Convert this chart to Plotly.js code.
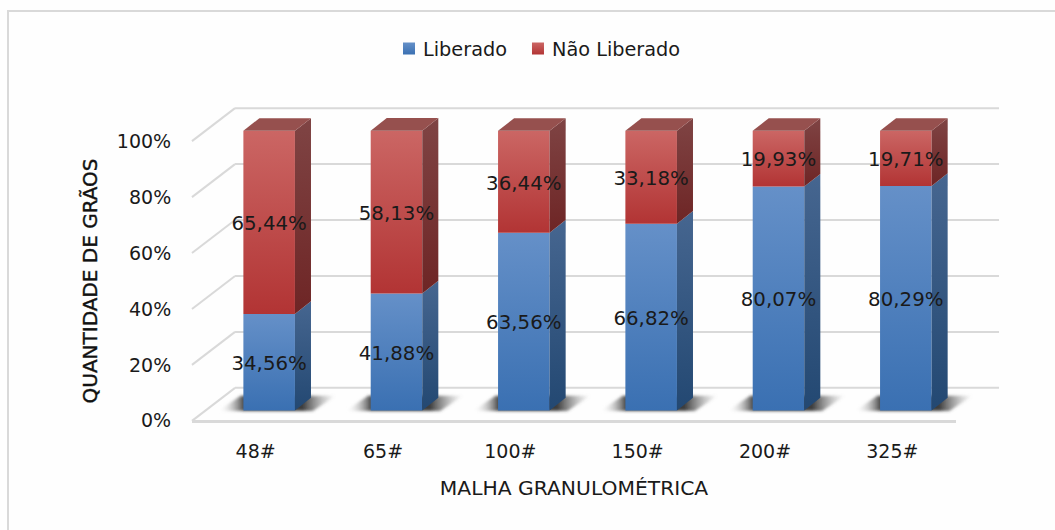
<!DOCTYPE html>
<html><head><meta charset="utf-8">
<script src="https://cdn.plot.ly/plotly-3.0.1.min.js"></script>
<style>html,body{margin:0;padding:0;background:#fff}#chart{width:1055px;height:530px}</style>
</head><body><div id="chart"></div>
<script>
const categories = ['48#','65#','100#','150#','200#','325#'];
const liberado = [34.56,41.88,63.56,66.82,80.07,80.29];
const naoLiberado = [65.44,58.13,36.44,33.18,19.93,19.71];
const yTicks = [0,20,40,60,80,100];
const yTickLabels = ['0%','20%','40%','60%','80%','100%'];

const positions = categories.map((c,i)=>i);
const fmt = v => v.toFixed(2).replace('.',',') + '%';
// 3D look, in axis units
const barW = 0.405, barShift = 0.106, barBase = 3.68;
const depthX = 0.126, depthY = 4.55;
const wallX = 0.338, wallY = 11.8;
const yMin = -14, yMax = 114;
const labelNudge = 1.0;
const left = positions.map(p => p + barShift - barW/2);
const right = left.map(l => l + barW);
const px = x => (x + 0.5) / 6, py = y => (y - yMin) / (yMax - yMin);

const traces = [];
traces.push({type:'bar',name:'Liberado',x:positions,y:liberado,base:positions.map(()=>barBase),width:barW,offset:barShift-barW/2,
  marker:{color:'#4a7dbd',line:{width:0}},hoverinfo:'skip'});
const redBase = liberado.map(v=>v+barBase);
traces.push({type:'bar',name:'Não Liberado',x:positions,y:naoLiberado,base:redBase,width:barW,offset:barShift-barW/2,
  marker:{color:'#c04d4d',line:{width:0}},hoverinfo:'skip'});

function poly(xs,ys,color,cls){
  traces.push({type:'scatter',mode:'lines',x:xs,y:ys,fill:'toself',fillcolor:color,line:{width:0,simplify:false},
    showlegend:false,hoverinfo:'skip',meta:cls});
}
positions.forEach((p,i)=>{
  const x1=right[i], y0=barBase, y1=y0+liberado[i], y2=y1+naoLiberado[i];
  poly([x1,x1+depthX,x1+depthX,x1,x1],[y0,y0+depthY,y1+depthY,y1,y0],'#30557f','sideBlue');
  poly([x1,x1+depthX,x1+depthX,x1,x1],[y1,y1+depthY,y2+depthY,y2,y1],'#743030','sideRed');
  poly([left[i],left[i]+depthX,x1+depthX,x1,left[i]],[y2,y2+depthY,y2+depthY,y2,y2],'#96504e','top');
});
const labelFont={size:19.8,color:'#1a1a1a',family:'DejaVu Sans'};
traces.push({type:'scatter',mode:'text',x:positions.map(p=>p+barShift),y:liberado.map(v=>barBase+v/2-labelNudge),text:liberado.map(fmt),
  textposition:'middle center',textfont:labelFont,showlegend:false,hoverinfo:'skip'});
traces.push({type:'scatter',mode:'text',x:positions.map(p=>p+barShift),y:naoLiberado.map((v,i)=>redBase[i]+v/2-labelNudge),text:naoLiberado.map(fmt),
  textposition:'middle center',textfont:labelFont,showlegend:false,hoverinfo:'skip'});

const grid = {color:'#d9d9d9',width:2};
const shapes = [];
const H=358, W=764, X0=192, Y0=460;
// chart frame
shapes.push({type:'path',xref:'paper',yref:'paper',layer:'below',
  path:`M ${(8-X0)/W} ${(Y0-532)/H} L ${(8-X0)/W} ${(Y0-11)/H} L ${(1057-X0)/W} ${(Y0-11)/H}`,
  line:{color:'#d9d9d9',width:2},fillcolor:'rgba(0,0,0,0)'});
yTicks.forEach(t=>{
  shapes.push({type:'line',xref:'paper',yref:'paper',layer:'below',x0:px(-0.5),y0:py(t),x1:px(-0.5+wallX),y1:py(t+wallY),line:grid});
  shapes.push({type:'line',xref:'paper',yref:'paper',layer:'below',x0:px(-0.5+wallX),y0:py(t+wallY),x1:px(5.5+wallX),y1:py(t+wallY),line:grid});
});
positions.forEach((p,i)=>{
  const a=left[i]-0.2, b=left[i]-0.02, c=right[i]+0.32, d=right[i]+0.14;
  shapes.push({type:'path',xref:'paper',yref:'paper',layer:'below',
    path:`M ${px(a)} ${py(barBase-0.2)} L ${px(b)} ${py(barBase+5.3)} L ${px(c)} ${py(barBase+5.3)} L ${px(d)} ${py(barBase-0.2)} Z`,
    line:{width:0},fillcolor:'#555555'});
});

const font='DejaVu Sans';
const layout = {
  width:1055,height:530,
  margin:{l:X0,r:1055-X0-W,t:Y0-H,b:530-Y0,autoexpand:false},
  paper_bgcolor:'#fefefe',plot_bgcolor:'rgba(0,0,0,0)',
  barmode:'overlay',showlegend:true,
  legend:{orientation:'h',x:(383-X0)/W,xanchor:'left',y:(Y0-49)/H,yanchor:'middle',font:{family:font,size:19.3,color:'#1a1a1a'},bgcolor:'rgba(0,0,0,0)',itemclick:false,itemdoubleclick:false,traceorder:'normal'},
  xaxis:{type:'linear',range:[-0.5,5.5],anchor:'free',position:(Y0-421)/H,tickmode:'array',tickvals:positions,ticktext:categories,showgrid:false,zeroline:false,
    showline:true,linecolor:'#d9d9d9',linewidth:2.5,ticks:'outside',ticklen:13,tickcolor:'rgba(0,0,0,0)',
    tickfont:{family:font,size:19,color:'#1a1a1a'},
    title:{text:'MALHA GRANULOMÉTRICA',font:{family:font,size:20.3,color:'#1a1a1a'},standoff:19}},
  yaxis:{range:[yMin,yMax],tickmode:'array',tickvals:yTicks,ticktext:yTickLabels,showgrid:false,zeroline:false,showline:false,
    ticks:'outside',ticklen:16,tickcolor:'rgba(0,0,0,0)',tickfont:{family:font,size:19,color:'#1a1a1a'},
    title:{text:'QUANTIDADE DE GRÃOS',font:{family:font,size:20,color:'#111'},standoff:13}},
  shapes
};

Plotly.newPlot('chart',traces,layout,{displayModeBar:false,staticPlot:true}).then(gd=>{
  const NS='http://www.w3.org/2000/svg';
  const svg=gd.querySelector('svg.main-svg');
  const defs=document.createElementNS(NS,'defs');
  const grad=(id,top,bottom)=>{
    const g=document.createElementNS(NS,'linearGradient');
    g.setAttribute('id',id);g.setAttribute('x1','0');g.setAttribute('y1','0');g.setAttribute('x2','0');g.setAttribute('y2','1');
    [[0,top],[1,bottom]].forEach(([o,c])=>{const s=document.createElementNS(NS,'stop');s.setAttribute('offset',o);s.setAttribute('stop-color',c);g.appendChild(s);});
    defs.appendChild(g);
  };
  grad('gBlue','#6590c8','#3a70b2');
  grad('gRed','#cb6664','#b23434');
  grad('gSideBlue','#466690','#234872');
  grad('gSideRed','#7f4444','#6e2525');
  const sg=document.createElementNS(NS,'linearGradient');
  sg.setAttribute('id','gShadow');
  [[0,'#ffffff',0],[0.22,'#333',0.9],[0.72,'#333',0.95],[1,'#888',0]].forEach(([o,c,a])=>{const s=document.createElementNS(NS,'stop');s.setAttribute('offset',o);s.setAttribute('stop-color',c);s.setAttribute('stop-opacity',a);sg.appendChild(s);});
  defs.appendChild(sg);
  const f=document.createElementNS(NS,'filter');f.setAttribute('id','fBlur');
  f.setAttribute('x','-20%');f.setAttribute('y','-50%');f.setAttribute('width','140%');f.setAttribute('height','200%');
  const b=document.createElementNS(NS,'feGaussianBlur');b.setAttribute('stdDeviation','1.5');f.appendChild(b);defs.appendChild(f);
  svg.insertBefore(defs,svg.firstChild);
  const bars=gd.querySelectorAll('.barlayer .trace.bars');
  bars[0].querySelectorAll('path').forEach(p=>p.style.fill='url(#gBlue)');
  bars[1].querySelectorAll('path').forEach(p=>p.style.fill='url(#gRed)');
  const scat=gd.querySelectorAll('.scatterlayer .trace.scatter');
  const sc=traces.filter(t=>t.type==='scatter');
  scat.forEach((t,i)=>{
    const m=sc[i].meta, p=t.querySelector('.js-fill');
    if(!p)return;
    if(m==='sideBlue')p.style.fill='url(#gSideBlue)';
    if(m==='sideRed')p.style.fill='url(#gSideRed)';
  });
  gd.querySelectorAll('.shapelayer path').forEach(p=>{
    if(p.style.fill&&p.style.fill.replace(/\s/g,'').indexOf('85,85,85')>=0){
      p.style.fill='url(#gShadow)';p.setAttribute('filter','url(#fBlur)');
    }
  });
  // legend swatches sit closer to their text, as in the reference
  const lg=gd.querySelectorAll('.legend .legendsymbols');
  lg.forEach((g,i)=>{
    g.setAttribute('transform','translate(6,0)');
    g.querySelectorAll('path').forEach(p=>p.style.fill=i===0?'url(#gBlue)':'url(#gRed)');
  });
  const yt=gd.querySelector('.ytitle');
  if(yt){yt.style.stroke='#111';yt.style.strokeWidth='0.4px';}
});
</script></body></html>
